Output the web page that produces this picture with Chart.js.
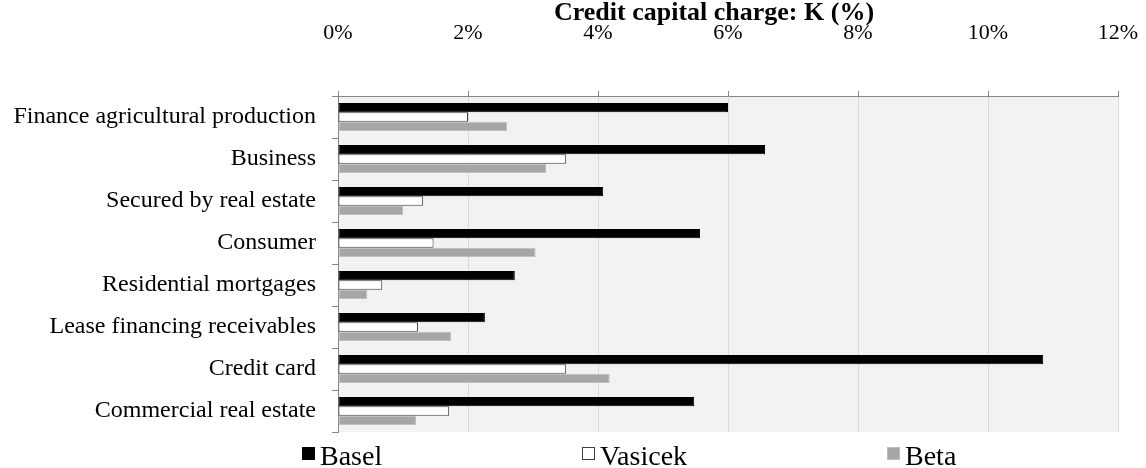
<!DOCTYPE html>
<html>
<head>
<meta charset="utf-8">
<script src="https://cdn.jsdelivr.net/npm/chart.js@4/dist/chart.umd.min.js"></script>
<style>
  html, body { margin: 0; padding: 0; background: #ffffff; }
  #wrap { width: 1146px; height: 468px; position: relative; }
</style>
</head>
<body>
<div id="wrap"><canvas id="chart"></canvas></div>
<script>
const categories = [
    'Finance agricultural production',
    'Business',
    'Secured by real estate',
    'Consumer',
    'Residential mortgages',
    'Lease financing receivables',
    'Credit card',
    'Commercial real estate'
];
const seriesNames = ['Basel', 'Vasicek', 'Beta'];
const baselValues = [6.0, 6.57, 4.08, 5.57, 2.72, 2.26, 10.85, 5.48];
const vasicekValues = [2.0, 3.51, 1.31, 1.47, 0.68, 1.23, 3.51, 1.71];
const betaValues = [2.6, 3.2, 1.0, 3.04, 0.45, 1.74, 4.18, 1.2];
const xTicks = [0, 2, 4, 6, 8, 10, 12];
const chartTitle = 'Credit capital charge: K (%)';

const serif = "'Liberation Serif', 'Times New Roman', serif";

// grey plot area like the Excel original
const plotBackground = {
    id: 'plotBackground',
    beforeDraw(chart) {
        const { ctx, chartArea } = chart;
        ctx.save();
        ctx.fillStyle = '#F2F2F2';
        ctx.fillRect(chartArea.left, chartArea.top, chartArea.right - chartArea.left, chartArea.bottom - chartArea.top);
        ctx.restore();
    }
};

// title sits a bit left of the plot centre in the original
const topTitle = {
    id: 'topTitle',
    afterDraw(chart, args, opts) {
        const { ctx, chartArea } = chart;
        ctx.save();
        ctx.font = 'bold 26px ' + serif;
        ctx.fillStyle = '#000';
        ctx.textAlign = 'center';
        ctx.textBaseline = 'alphabetic';
        ctx.fillText(opts.text, (chartArea.left + chartArea.right) / 2 + opts.shift, opts.baseline);
        ctx.restore();
    }
};

// bottom legend with wide, Excel-like spacing
const spreadLegend = {
    id: 'spreadLegend',
    afterDraw(chart, args, opts) {
        const { ctx } = chart;
        ctx.save();
        ctx.font = '28px ' + serif;
        ctx.textBaseline = 'alphabetic';
        chart.data.datasets.forEach((ds, i) => {
            const x = opts.xs[i];
            const s = 13;
            const top = opts.boxTop;
            ctx.fillStyle = ds.backgroundColor;
            ctx.fillRect(x, top, s, s);
            ctx.strokeStyle = ds.borderColor;
            ctx.lineWidth = 1;
            ctx.strokeRect(x + 0.5, top + 0.5, s - 1, s - 1);
            ctx.fillStyle = '#000';
            ctx.fillText(ds.label, x + s + 5, opts.baseline);
        });
        ctx.restore();
    }
};

new Chart(document.getElementById('chart'), {
    type: 'bar',
    data: {
        labels: categories,
        datasets: [
            {
                label: seriesNames[0],
                data: baselValues,
                backgroundColor: '#000000',
                borderColor: '#000000',
                borderWidth: 1,
                borderSkipped: false
            },
            {
                label: seriesNames[1],
                data: vasicekValues,
                backgroundColor: '#FFFFFF',
                borderColor: '#404040',
                borderWidth: 1,
                borderSkipped: false
            },
            {
                label: seriesNames[2],
                data: betaValues,
                backgroundColor: '#A6A6A6',
                borderColor: '#BFBFBF',
                borderWidth: 1,
                borderSkipped: false
            }
        ]
    },
    options: {
        indexAxis: 'y',
        responsive: true,
        maintainAspectRatio: false,
        animation: false,
        layout: {
            padding: { left: 0, right: 28, top: 0, bottom: 36 }
        },
        datasets: {
            bar: {
                categoryPercentage: 0.67,
                barPercentage: 1.0
            }
        },
        plugins: {
            legend: { display: false },
            tooltip: { enabled: false },
            title: { display: false },
            topTitle: {
                text: chartTitle,
                shift: -14,
                baseline: 20
            },
            spreadLegend: {
                xs: [302, 582, 887],
                boxTop: 447,
                baseline: 465
            }
        },
        scales: {
            x: {
                position: 'top',
                min: xTicks[0],
                max: xTicks[xTicks.length - 1],
                afterBuildTicks(scale) {
                    scale.ticks = xTicks.map(v => ({ value: v }));
                },
                afterFit(scale) {
                    scale.height = 96;
                    scale.paddingLeft = 0;
                    scale.paddingRight = 0;
                },
                ticks: {
                    color: '#000',
                    font: { family: serif, size: 22 },
                    padding: 45,
                    maxRotation: 0,
                    callback: v => v + '%'
                },
                grid: {
                    color: '#D9D9D9',
                    tickColor: '#868686',
                    tickLength: 5
                },
                border: { color: '#868686', width: 1 }
            },
            y: {
                afterFit(scale) {
                    scale.width = 338;
                },
                ticks: {
                    color: '#000',
                    font: { family: serif, size: 24 },
                    padding: 16
                },
                grid: {
                    offset: true,
                    drawOnChartArea: false,
                    tickColor: '#868686',
                    tickLength: 6
                },
                border: { color: '#868686', width: 1 }
            }
        }
    },
    plugins: [plotBackground, topTitle, spreadLegend]
});
</script>
</body>
</html>
